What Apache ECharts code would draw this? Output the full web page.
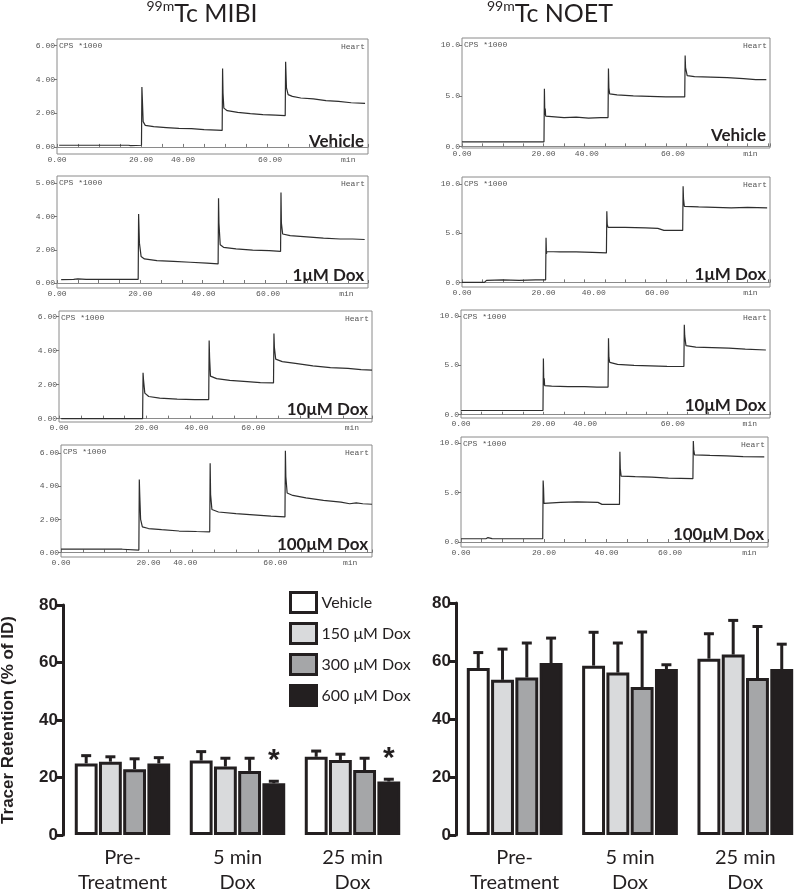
<!DOCTYPE html>
<html><head><meta charset="utf-8">
<script src="https://cdn.jsdelivr.net/npm/echarts@6/dist/echarts.min.js"></script>
<style>html,body{margin:0;padding:0;background:#fff}#c{width:795px;height:889px}</style>
</head><body><div id="c"></div>
<script>
// ---------- DATA ----------
const traceLabels = ['Vehicle', '1\u03bcM Dox', '10\u03bcM Dox', '100\u03bcM Dox'];
const xTickText = ['0.00', '20.00', '40.00', '60.00', 'min'];
const mibiYTicks = [0, 2, 4, 6];
const noetYTicks = [0, 5, 10];

// 99mTc MIBI traces [minutes, CPS*1000]
const mibiVehicle = [[0.5,0.1],[17,0.1],[17.5,0.08],[20.1,0.1],[20.2,3.55],[20.3,2.9],[20.5,1.5],[21,1.28],[23,1.2],[26,1.15],[29,1.1],[32,1.08],[35,1.03],[38,1.0],[39.3,0.98],[39.4,4.65],[39.5,3.2],[39.7,2.3],[40.5,2.15],[43,2.05],[46,1.98],[49,1.92],[52,1.88],[54.3,1.85],[54.4,5.05],[54.6,3.5],[55,3.1],[56,3.0],[58,2.9],[61,2.85],[64,2.75],[67,2.7],[70,2.62],[73.3,2.58]];
const mibi1uM = [[1,0.2],[4,0.22],[5,0.25],[7,0.22],[19.5,0.22],[19.6,4.15],[19.8,2.4],[20.2,1.6],[21,1.45],[24,1.35],[28,1.3],[32,1.25],[36,1.2],[38.7,1.15],[38.8,5.1],[38.9,3.6],[39.2,2.3],[40,2.15],[43,2.05],[47,1.98],[51,1.95],[53.7,1.9],[53.8,5.45],[53.9,3.6],[54.2,2.95],[56,2.85],[60,2.78],[64,2.7],[68,2.65],[71,2.65],[73.9,2.62]];
const mibi10uM = [[0.5,0.0],[19.1,0.0],[19.2,2.7],[19.3,2.3],[19.6,1.5],[20.5,1.3],[23,1.2],[27,1.15],[31,1.12],[34.2,1.12],[34.3,4.6],[34.4,3.6],[34.6,2.5],[36,2.35],[39,2.25],[43,2.18],[46,2.12],[49,2.1],[49.1,5.0],[49.2,4.2],[49.5,3.5],[51,3.35],[54,3.25],[58,3.1],[62,3.0],[66,2.95],[69,2.88],[71.5,2.85]];
const mibi100uM = [[0,0.2],[14,0.2],[14.2,0.15],[17.8,0.15],[17.9,4.42],[18.0,3.5],[18.2,2.0],[18.6,1.55],[20,1.45],[23,1.38],[27,1.3],[31,1.27],[34.0,1.25],[34.1,5.4],[34.2,3.5],[34.5,2.6],[36,2.45],[40,2.35],[44,2.28],[48,2.2],[51.2,2.15],[51.3,6.15],[51.4,4.6],[51.7,3.6],[53,3.45],[56,3.3],[60,3.15],[64,3.05],[66,2.95],[67.5,3.0],[69,2.95],[71.1,2.92]];

// 99mTc NOET traces
const noetVehicle = [[0,0.45],[20.1,0.45],[20.2,5.7],[20.3,3.1],[20.4,3.75],[20.5,3.0],[22,2.95],[25,2.85],[28,2.9],[31,2.8],[34,2.85],[35.8,2.85],[35.9,7.7],[36.0,5.8],[36.2,5.2],[38,5.1],[42,5.0],[46,4.95],[50,4.9],[54.6,4.9],[54.7,9.0],[54.8,7.8],[55.2,7.0],[57,6.9],[61,6.85],[65,6.8],[69,6.7],[72,6.6],[74.6,6.6]];
const noet1uM = [[0,0.0],[5.5,0.0],[6,0.2],[10,0.25],[14,0.2],[18,0.25],[20.5,0.25],[20.6,4.55],[20.7,2.9],[20.8,3.15],[24,3.1],[28,3.1],[32,3.05],[35.4,3.0],[35.5,7.25],[35.6,5.9],[35.8,5.6],[40,5.6],[45,5.55],[48,5.5],[49.5,5.3],[53,5.3],[54.1,5.3],[54.2,9.8],[54.3,8.5],[54.5,7.75],[58,7.7],[62,7.65],[66,7.6],[70,7.65],[74.8,7.6]];
const noet10uM = [[0,0.43],[19.9,0.43],[20.0,5.7],[20.1,3.0],[20.2,3.7],[20.3,2.95],[22,2.9],[26,2.85],[30,2.85],[33,2.8],[35.7,2.8],[35.8,7.75],[35.9,5.8],[36.1,5.3],[38,5.1],[42,5.0],[46,4.95],[50,4.9],[54.1,4.88],[54.2,9.1],[54.3,8.0],[54.6,7.0],[57,6.85],[61,6.8],[65,6.75],[69,6.65],[74,6.55]];
const noet100uM = [[0,0.33],[6,0.33],[6.5,0.45],[7.5,0.35],[19.7,0.33],[19.8,6.2],[19.9,5.4],[20.0,3.9],[24,4.0],[28,4.05],[33,4.0],[34,3.8],[38.2,3.8],[38.3,9.1],[38.4,7.4],[38.6,6.65],[42,6.6],[46,6.55],[50,6.45],[55.9,6.4],[56.0,10.2],[56.1,9.3],[56.3,8.8],[60,8.75],[64,8.7],[68,8.62],[73.1,8.6]];

// where the printed x tick labels sit on each trace's minute scale
const xLabelPos_mibiVehicle = [0, 20, 30, 50.7, 69.3];
const xLabelPos_mibi1uM = [0, 20, 35.2, 50.7, 69.5];
const xLabelPos_mibi10uM = [0, 20, 31.4, 44.4, 66.9];
const xLabelPos_mibi100uM = [0, 20, 28.4, 49, 66.1];
const xLabelPos_noetVehicle = [0, 20, 30.6, 51.7, 70.7];
const xLabelPos_noet1uM = [0, 20, 32.3, 47.8, 70.7];
const xLabelPos_noet10uM = [0, 20, 30.1, 51.4, 70.1];
const xLabelPos_noet100uM = [0, 20, 35.1, 50.4, 69.5];

// bar charts
const barCategories = ['Pre-\nTreatment', '5 min\nDox', '25 min\nDox'];
const groupNames = ['Vehicle', '150 \u03bcM Dox', '300 \u03bcM Dox', '600 \u03bcM Dox'];
const mibiVehMean = [24.9, 25.9, 27.2], mibiVehSD = [2.7, 3.1, 2.0];
const mibi150Mean = [25.5, 23.8, 26.1], mibi150SD = [1.7, 2.9, 2.0];
const mibi300Mean = [22.9, 22.3, 22.6], mibi300SD = [3.6, 4.4, 4.1];
const mibi600Mean = [24.9, 18.0, 18.6], mibi600SD = [2.0, 0.7, 0.8];
const mibi600Sig = ['', '*', '*'];
const noetVehMean = [57.6, 58.4, 60.8], noetVehSD = [5.3, 11.5, 8.6];
const noet150Mean = [53.5, 56.0, 62.2], noet150SD = [10.6, 10.2, 11.8];
const noet300Mean = [54.3, 51.0, 54.1], noet300SD = [11.9, 19.0, 17.8];
const noet600Mean = [59.3, 57.2, 57.2], noet600SD = [8.6, 1.5, 8.6];

// ---------- LAYOUT / STYLE ----------
const INK = '#231f20';
const panels = [
  {d: mibiVehicle, lab: traceLabels[0], xp: xLabelPos_mibiVehicle, g: [57, 39, 311, 115], y: [-0.42, 6.4], xm: 74, yt: mibiYTicks, ytx: ['0.00','2.00','4.00','6.00']},
  {d: mibi1uM, lab: traceLabels[1], xp: xLabelPos_mibi1uM, g: [57, 176, 311, 112], y: [-0.3, 6.44], xm: 74.7, yt: mibiYTicks, ytx: ['0.00','2.00','4.00','5.00']},
  {d: mibi10uM, lab: traceLabels[2], xp: xLabelPos_mibi10uM, g: [59, 311, 313, 111], y: [-0.2, 6.33], xm: 71.5, yt: mibiYTicks, ytx: ['0.00','2.00','4.00','6.00']},
  {d: mibi100uM, lab: traceLabels[3], xp: xLabelPos_mibi100uM, g: [61, 445, 311, 112], y: [-0.27, 6.5], xm: 71.1, yt: mibiYTicks, ytx: ['0.00','2.00','4.00','6.00']},
  {d: noetVehicle, lab: traceLabels[0], xp: xLabelPos_noetVehicle, g: [462, 38, 308, 110], y: [-0.16, 10.73], xm: 75.5, yt: noetYTicks, ytx: ['0.0','5.0','10.0']},
  {d: noet1uM, lab: traceLabels[1], xp: xLabelPos_noet1uM, g: [462, 177, 308, 110], y: [-0.47, 10.74], xm: 75.5, yt: noetYTicks, ytx: ['0.0','5.0','10.0']},
  {d: noet10uM, lab: traceLabels[2], xp: xLabelPos_noet10uM, g: [461, 310, 309, 108], y: [-0.33, 10.6], xm: 75, yt: noetYTicks, ytx: ['0.0','5.0','10.0']},
  {d: noet100uM, lab: traceLabels[3], xp: xLabelPos_noet100uM, g: [461, 437, 307, 110], y: [-0.5, 10.6], xm: 74, yt: noetYTicks, ytx: ['0.0','5.0','10.0']}
];

const grid = [], xAxis = [], yAxis = [], series = [], graphic = [];
const mono = 'Liberation Mono';
panels.forEach((p, i) => {
  grid.push({left: p.g[0], top: p.g[1], width: p.g[2], height: p.g[3], show: true, borderColor: '#8a8a8a', borderWidth: 1, containLabel: false, outerBoundsMode: 'none'});
  const xp = p.xp, yt = p.yt, ytx = p.ytx;
  xAxis.push({type: 'value', gridIndex: i, min: 0, max: p.xm, interval: 5,
    axisLine: {show: true, lineStyle: {color: '#8a8a8a', width: 1}},
    axisTick: {show: true, inside: true, length: 3, lineStyle: {color: '#777'}},
    splitLine: {show: false},
    axisLabel: {customValues: xp, margin: 2, fontFamily: mono, fontSize: 8, color: '#555',
      formatter: v => { const k = xp.findIndex(q => Math.abs(q - v) < 1e-6); return k >= 0 ? xTickText[k] : ''; }}});
  yAxis.push({type: 'value', gridIndex: i, min: p.y[0], max: p.y[1],
    axisLine: {show: false}, splitLine: {show: false},
    axisTick: {show: true, customValues: yt, length: 3, lineStyle: {color: '#777'}},
    axisLabel: {customValues: yt, margin: 2, fontFamily: mono, fontSize: 8, color: '#555',
      formatter: v => { const k = yt.findIndex(q => Math.abs(q - v) < 1e-6); return k >= 0 ? ytx[k] : ''; }}});
  series.push({type: 'line', xAxisIndex: i, yAxisIndex: i, data: p.d, showSymbol: false, symbol: 'none',
    lineStyle: {color: '#2e2e2e', width: 1.2}, silent: true});
  const [L, T, W, H] = p.g;
  graphic.push({type: 'text', x: L + 2, y: T + 7, style: {text: 'CPS *1000', font: '8px "Liberation Mono"', fill: '#555', verticalAlign: 'middle'}});
  graphic.push({type: 'text', x: L + W - 3, y: T + 8, style: {text: 'Heart', font: '8px "Liberation Mono"', fill: '#555', align: 'right', verticalAlign: 'middle'}});
  graphic.push({type: 'text', x: L + W - 4, y: T + H - 12, style: {text: p.lab, font: 'bold 17px Lato', fill: INK, align: 'right', verticalAlign: 'middle'}});
});

// headers
[['Tc MIBI', 202], ['Tc NOET', 550]].forEach(([t, cx]) => {
  graphic.push({type: 'text', x: cx, y: 14, style: {
    text: '{s|99m}{m|' + t + '}', align: 'center', verticalAlign: 'middle', fill: INK,
    rich: {s: {fontSize: 14, fontFamily: 'Lato', verticalAlign: 'top', lineHeight: 18, fill: INK},
           m: {fontSize: 25, fontFamily: 'Lato', lineHeight: 30, fill: INK}}}});
});

// bar charts
const barColors = ['#ffffff', '#d9dadc', '#a5a6a8', INK];
const BAR_GAP = 0.06, CAT_GAP = 0.17;
const bars = [
  {g: [65, 605, 345, 230], off: 2, means: [mibiVehMean, mibi150Mean, mibi300Mean, mibi600Mean], sds: [mibiVehSD, mibi150SD, mibi300SD, mibi600SD], name: 'Tracer Retention (% of ID)'},
  {g: [457, 603, 346, 232], off: 1, means: [noetVehMean, noet150Mean, noet300Mean, noet600Mean], sds: [noetVehSD, noet150SD, noet300SD, noet600SD], name: ''}
];
bars.forEach((b, j) => {
  const gi = 8 + j;
  grid.push({left: b.g[0], top: b.g[1], width: b.g[2], height: b.g[3], outerBoundsMode: 'none', containLabel: false});
  xAxis.push({type: 'category', gridIndex: gi, data: barCategories,
    axisLine: {show: false}, axisTick: {show: false},
    axisLabel: {interval: 0, margin: 10, fontFamily: 'Lato', fontSize: 20, lineHeight: 25, color: INK}});
  yAxis.push({type: 'value', gridIndex: gi, min: 0, max: 80, interval: 20, offset: b.off,
    name: b.name, nameLocation: 'middle', nameRotate: 90, nameGap: 46,
    nameTextStyle: {fontFamily: 'Liberation Sans', fontWeight: 'bold', fontSize: 17, color: INK},
    axisLine: {show: true, lineStyle: {color: INK, width: 3}},
    axisTick: {show: true, length: 6, lineStyle: {color: INK, width: 3}},
    splitLine: {show: false},
    axisLabel: {margin: 5, fontFamily: 'Liberation Sans', fontWeight: 'bold', fontSize: 17, color: INK}});
  const errData = [];
  b.means.forEach((m, k) => {
    const data = m.map((v, c) => {
      if (j === 0 && k === 3 && mibi600Sig[c]) {
        return {value: v, label: {show: true, formatter: mibi600Sig[c], position: 'top', distance: 8,
          fontFamily: 'Liberation Sans', fontWeight: 'bold', fontSize: 30, color: INK}};
      }
      return v;
    });
    series.push({type: 'bar', name: groupNames[k], xAxisIndex: gi, yAxisIndex: gi, data,
      barGap: (BAR_GAP * 100) + '%', barCategoryGap: (CAT_GAP * 100) + '%', z: 3,
      itemStyle: {color: barColors[k], borderColor: INK, borderWidth: 3}});
    m.forEach((v, c) => errData.push([c, k, v, b.sds[k][c]]));
  });
  series.push({type: 'custom', name: 'err' + j, xAxisIndex: gi, yAxisIndex: gi, data: errData, z: 2,
    encode: {x: 0, y: 2}, silent: true,
    renderItem: (params, api) => {
      const c = api.value(0), k = api.value(1), m = api.value(2), sd = api.value(3);
      const base = api.coord([c, m]);
      const band = api.size([1, 0])[0];
      const n = 4;
      const w = band * (1 - CAT_GAP) / (n + (n - 1) * BAR_GAP);
      const x = base[0] + (k - (n - 1) / 2) * w * (1 + BAR_GAP);
      const top = api.coord([c, m + sd])[1];
      const cap = 5;
      return {type: 'group', children: [
        {type: 'line', shape: {x1: x, y1: base[1], x2: x, y2: top}, style: {stroke: INK, lineWidth: 3}},
        {type: 'line', shape: {x1: x - cap, y1: top, x2: x + cap, y2: top}, style: {stroke: INK, lineWidth: 3}}]};
    }});
});

const chart = echarts.init(document.getElementById('c'), null, {renderer: 'canvas'});
chart.setOption({
  animation: false,
  backgroundColor: '#ffffff',
  grid, xAxis, yAxis, series, graphic,
  legend: {data: groupNames, orient: 'vertical', left: 289, top: 591, padding: 0, icon: 'rect', itemWidth: 26, itemHeight: 20, itemGap: 8,
    selectedMode: false, itemStyle: {borderColor: INK, borderWidth: 3},
    textStyle: {fontFamily: 'Lato', fontSize: 16, color: INK}}
});
</script></body></html>
